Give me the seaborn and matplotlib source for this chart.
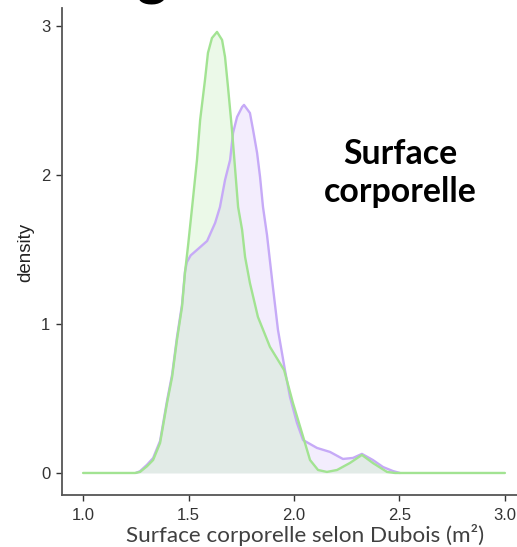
import numpy as np
import pandas as pd
import matplotlib
matplotlib.use("Agg")
import matplotlib.pyplot as plt
import seaborn as sns

# ---- data (density curves per group) ----
green_x = [1.00, 1.246, 1.270, 1.303, 1.332, 1.365, 1.398, 1.422, 1.445, 1.469, 1.483,
           1.498, 1.517, 1.540, 1.555, 1.578, 1.592, 1.611, 1.635, 1.659, 1.673, 1.687,
           1.706, 1.720, 1.735, 1.754, 1.768, 1.791, 1.829, 1.886, 1.953, 1.995, 2.038,
           2.076, 2.114, 2.156, 2.204, 2.265, 2.322, 2.374, 2.441, 2.479, 3.00]
green_d = [0.0, 0.0, 0.007, 0.045, 0.087, 0.201, 0.470, 0.644, 0.893, 1.114, 1.342,
           1.530, 1.785, 2.101, 2.369, 2.638, 2.819, 2.919, 2.960, 2.906, 2.792, 2.591,
           2.302, 2.054, 1.785, 1.631, 1.450, 1.275, 1.047, 0.846, 0.691, 0.470, 0.268,
           0.087, 0.020, 0.007, 0.020, 0.067, 0.121, 0.067, 0.007, 0.0, 0.0]

purple_x = [1.25, 1.270, 1.303, 1.332, 1.365, 1.398, 1.422, 1.445, 1.469, 1.483, 1.492,
            1.510, 1.540, 1.588, 1.626, 1.649, 1.673, 1.697, 1.711, 1.730, 1.754, 1.763,
            1.791, 1.806, 1.825, 1.839, 1.853, 1.872, 1.900, 1.924, 1.957, 1.981, 2.014,
            2.043, 2.109, 2.171, 2.232, 2.280, 2.322, 2.374, 2.422, 2.469, 2.502]
purple_d = [0.0, 0.012, 0.055, 0.100, 0.215, 0.485, 0.660, 0.910, 1.130, 1.350, 1.415,
            1.460, 1.497, 1.557, 1.678, 1.785, 1.966, 2.101, 2.282, 2.389, 2.456, 2.470,
            2.416, 2.302, 2.148, 1.987, 1.785, 1.597, 1.248, 0.960, 0.691, 0.510, 0.336,
            0.221, 0.168, 0.141, 0.094, 0.101, 0.128, 0.087, 0.040, 0.013, 0.0]

x_ticks = [1.0, 1.5, 2.0, 2.5, 3.0]
x_tick_labels = ["1.0", "1.5", "2.0", "2.5", "3.0"]
y_ticks = [0, 1, 2, 3]
y_tick_labels = ["0", "1", "2", "3"]

x_label = "Surface corporelle selon Dubois (m²)"
y_label = "density"
annotation = "Surface\ncorporelle"

green_line = "#A2E392"
green_fill = "#9FE38F"
purple_line = "#C6AAF7"
purple_fill = "#C5A8F8"

df = pd.concat([
    pd.DataFrame({"x": purple_x, "density": purple_d, "group": "purple"}),
    pd.DataFrame({"x": green_x, "density": green_d, "group": "green"}),
])

sns.set_style("ticks")
plt.rcParams["font.family"] = ["Liberation Sans", "DejaVu Sans"]

fig = plt.figure(figsize=(5.17, 5.47), dpi=100)
W, H = 517, 547
ax_left, ax_right, ax_top, ax_bot = 62, 526, 8.3, 495.1
ax = fig.add_axes([ax_left / W, (H - ax_bot) / H, (ax_right - ax_left) / W, (ax_bot - ax_top) / H])

for grp, lc, fc in [("purple", purple_line, purple_fill), ("green", green_line, green_fill)]:
    sub = df[df["group"] == grp]
    ax.fill_between(sub["x"], sub["density"], 0, color=fc, alpha=0.2, linewidth=0)
    sns.lineplot(data=sub, x="x", y="density", ax=ax, color=lc, linewidth=1.7,
                 estimator=None, sort=False, legend=False)

ax.set_xlim(0.9, 3.1)
ax.set_ylim(-0.1485, 3.1185)
ax.set_xticks(x_ticks)
ax.set_xticklabels(x_tick_labels)
ax.set_yticks(y_ticks)
ax.set_yticklabels(y_tick_labels)
ax.tick_params(axis="both", length=4.5, width=1.0, color="#333333", labelcolor="#333333",
               labelsize=12, direction="out")
ax.tick_params(axis="x", pad=5)
ax.tick_params(axis="y", pad=4)
for s in ["top", "right"]:
    ax.spines[s].set_visible(False)
for s in ["left", "bottom"]:
    ax.spines[s].set_color("#555555")
    ax.spines[s].set_linewidth(1.3)
ax.set_xlabel("")
ax.set_ylabel("")
ax.set_facecolor("white")

fig.text(26 / W, 1 - 252 / H, y_label, rotation=90, ha="center", va="center",
         fontsize=13.5, color="#222222")
fig.text(305 / W, 1 - 542 / H, x_label, ha="center", va="baseline", fontsize=16.2,
         color="#404040", family=["Lato", "DejaVu Sans"])
fig.text(400 / W, 1 - 173 / H, annotation, ha="center", va="center", fontsize=24.4,
         fontweight="bold", color="black", family=["Lato", "DejaVu Sans"], linespacing=1.25)
fig.text(152 / W, 1 + 7 / H, "g", ha="center", va="baseline", fontsize=42,
         fontweight="bold", color="black", family=["Lato", "DejaVu Sans"])

fig.savefig("out.png", dpi=100)
